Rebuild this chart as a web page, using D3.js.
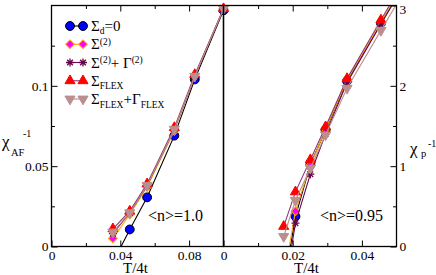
<!DOCTYPE html>
<html>
<head>
<meta charset="utf-8">
<script src="https://cdn.jsdelivr.net/npm/d3@7"></script>
<style>
  body { margin: 0; background: #fff; }
  svg text { font-family: "Liberation Serif", "Times New Roman", Times, serif; fill: #000; }
</style>
</head>
<body>
<svg id="chart" width="436" height="275"></svg>
<script>
// ---- data: left panel, <n>=1.0, inverse AF susceptibility vs T/4t
const tempsAF     = [0.0357, 0.0455, 0.0556, 0.0714, 0.0833, 0.1];
const sigD0AF     = [-0.010, 0.0106, 0.0306, 0.069, 0.104, 0.147];
const sig2AF      = [0.005, 0.020, 0.037, 0.072, 0.106, 0.148];
const sig2Gam2AF  = [0.008, 0.021, 0.038, 0.073, 0.106, 0.148];
const flexAF      = [0.011, 0.022, 0.039, 0.074, 0.107, 0.148];
const flexGamAF   = [0.009, 0.021, 0.038, 0.073, 0.106, 0.148];

// ---- data: right panel, <n>=0.95, inverse pairing susceptibility vs T/4t
const tempsP      = [0.0174, 0.0208, 0.0251, 0.0295, 0.0357, 0.0455, 0.0556];
const sigD0P      = [-0.50, 0.375, 1.02, 1.45, 2.06, 2.78, 3.52];
const sig2P       = [-0.40, 0.44, 1.01, 1.46, 2.07, 2.79, 3.53];
const sig2Gam2P   = [-0.60, 0.29, 0.90, 1.40, 2.04, 2.77, 3.50];
const flexP       = [0.25, 0.68, 1.08, 1.49, 2.09, 2.82, 3.56];
const flexGamP    = [0.125, 0.575, 0.975, 1.39, 1.97, 2.69, 3.42];

const xTicksAF = [0, 0.04, 0.08], xMinorAF = [0.02, 0.06];
const yTicksAF = [0, 0.05, 0.1], yMinorAF = [0.025, 0.075, 0.125];
const xTicksP = [0, 0.02, 0.04], xMinorP = [0.01, 0.03];
const yTicksP = [0, 1, 2, 3], yMinorP = [0.5, 1.5, 2.5];

const series = [
  {key: "d0", sym: "circle", fill: "#0000ff", edge: "#000", line: "#000"},
  {key: "s2", sym: "diamond", fill: "#ff00ff", edge: "#ffa500", line: "#ffa500"},
  {key: "s2g2", sym: "star", fill: "none", edge: "#67074a", line: "#67074a"},
  {key: "flex", sym: "up", fill: "#ff0000", edge: "#ff0000", line: "#8b3a7a"},
  {key: "flexg", sym: "down", fill: "#bc8f8f", edge: "#bc8f8f", line: "#bc8f8f"}
];
const valsAF = {d0: sigD0AF, s2: sig2AF, s2g2: sig2Gam2AF, flex: flexAF, flexg: flexGamAF};
const valsP = {d0: sigD0P, s2: sig2P, s2g2: sig2Gam2P, flex: flexP, flexg: flexGamP};

const svg = d3.select("#chart");
const plotTop = 5.5, plotBottom = 246.5;

const xL = d3.scaleLinear().domain([0, 0.1]).range([51.5, 223.5]);
const yL = d3.scaleLinear().domain([0, 0.15]).range([plotBottom, plotTop]);
const xR = d3.scaleLinear().domain([0, 0.05]).range([223.5, 396.5]);
const yR = d3.scaleLinear().domain([0, 3]).range([plotBottom, plotTop]);

function marker(sel, sym) {
  if (sym === "circle") {
    sel.attr("d", d3.symbol(d3.symbolCircle, 62)());
  } else if (sym === "diamond") {
    sel.attr("d", d3.symbol(d3.symbolSquare, 38)()).attr("data-rot", 45);
  } else if (sym === "star") {
    const r = 4, a = r * 0.707;
    sel.attr("d", `M${-r},0L${r},0M0,${-r}L0,${r}M${-a},${-a}L${a},${a}M${-a},${a}L${a},${-a}`);
  } else if (sym === "up") {
    sel.attr("d", d3.symbol(d3.symbolTriangle, 44)());
  } else {
    sel.attr("d", d3.symbol(d3.symbolTriangle, 44)()).attr("data-rot", 180);
  }
}

function drawPanel(id, x, y, temps, vals) {
  const g = svg.append("g");
  const [x0, x1] = x.range();
  g.append("clipPath").attr("id", id)
    .append("rect").attr("x", x0).attr("y", plotTop).attr("width", x1 - x0).attr("height", plotBottom - plotTop);

  const line = d3.line().x(d => x(d[0])).y(d => y(d[1]));
  series.forEach(s => {
    const pts = temps.map((t, i) => [t, vals[s.key][i]]);
    g.append("path").datum(pts)
      .attr("d", line).attr("fill", "none")
      .attr("stroke", s.line).attr("stroke-width", 1.1)
      .attr("clip-path", `url(#${id})`);
    // symbols only for points inside the panel
    const inside = pts.filter(p => p[1] >= y.domain()[0] && p[1] <= y.domain()[1]
                                && p[0] >= x.domain()[0] && p[0] <= x.domain()[1]);
    g.selectAll(null).data(inside).enter().append("path")
      .call(marker, s.sym)
      .attr("transform", function(d) {
        const rot = this.getAttribute("data-rot") || 0;
        return `translate(${x(d[0])},${y(d[1])}) rotate(${rot})`;
      })
      .attr("fill", s.fill).attr("stroke", s.edge)
      .attr("stroke-width", s.sym === "star" ? 1.3 : 1);
  });
  return g;
}

drawPanel("clipL", xL, yL, tempsAF, valsAF);
drawPanel("clipR", xR, yR, tempsP, valsP);

// ---- axes (ticks point inward, frame drawn as a rect)
function tickStyle(g, size) {
  g.select(".domain").remove();
  g.selectAll(".tick line").attr("stroke", "#000").attr("stroke-width", 1);
  g.selectAll("text").attr("font-family", null).style("font-size", size + "px").attr("fill", "#000");
}
const fmt = d => d === 0 ? "0" : d3.format("~g")(d);

function axesFor(x, y, xMaj, xMin, yMaj, yMin, ySide) {
  const ag = svg.append("g");
  const [x0, x1] = x.range();
  ag.append("g").attr("transform", `translate(0,${plotBottom})`)
    .call(d3.axisBottom(x).tickValues(xMaj).tickSizeInner(-6).tickSizeOuter(0).tickPadding(4).tickFormat(fmt))
    .call(tickStyle, 13.5);
  ag.append("g").attr("transform", `translate(0,${plotBottom})`)
    .call(d3.axisBottom(x).tickValues(xMin).tickSizeInner(-3.5).tickSizeOuter(0).tickFormat(""))
    .call(tickStyle, 13.5);
  ag.append("g").attr("transform", `translate(0,${plotTop})`)
    .call(d3.axisTop(x).tickValues(xMaj.filter(v => v !== 0)).tickSizeInner(-6).tickSizeOuter(0).tickFormat(""))
    .call(tickStyle, 13.5);
  ag.append("g").attr("transform", `translate(0,${plotTop})`)
    .call(d3.axisTop(x).tickValues(xMin).tickSizeInner(-3.5).tickSizeOuter(0).tickFormat(""))
    .call(tickStyle, 13.5);
  if (ySide === "left") {
    ag.append("g").attr("transform", `translate(${x0},0)`)
      .call(d3.axisLeft(y).tickValues(yMaj).tickSizeInner(-6).tickSizeOuter(0).tickPadding(3).tickFormat(fmt))
      .call(tickStyle, 13.5);
    ag.append("g").attr("transform", `translate(${x0},0)`)
      .call(d3.axisLeft(y).tickValues(yMin).tickSizeInner(-3.5).tickSizeOuter(0).tickFormat(""))
      .call(tickStyle, 13.5);
  } else {
    const ry = ag.append("g").attr("transform", `translate(${x1},0)`)
      .call(d3.axisRight(y).tickValues(yMaj).tickSizeInner(-6).tickSizeOuter(0).tickPadding(3).tickFormat(fmt))
      .call(tickStyle, 13.5);
    // keep the top label inside the picture
    ry.selectAll(".tick text").filter(d => d === y.domain()[1]).attr("dy", "0.6em");
    ag.append("g").attr("transform", `translate(${x1},0)`)
      .call(d3.axisRight(y).tickValues(yMin).tickSizeInner(-3.5).tickSizeOuter(0).tickFormat(""))
      .call(tickStyle, 13.5);
  }
  ag.append("rect").attr("x", x0).attr("y", plotTop).attr("width", x1 - x0).attr("height", plotBottom - plotTop)
    .attr("fill", "none").attr("stroke", "#000").attr("stroke-width", 1.3);
}
axesFor(xL, yL, xTicksAF, xMinorAF, yTicksAF, yMinorAF, "left");
axesFor(xR, yR, xTicksP, xMinorP, yTicksP, yMinorP, "right");

// ---- axis titles and annotations
svg.append("text").attr("x", 135.5).attr("y", 273).attr("text-anchor", "middle")
  .style("font-size", "15px").text("T/4t");
svg.append("text").attr("x", 306.5).attr("y", 273).attr("text-anchor", "middle")
  .style("font-size", "15px").text("T/4t");

svg.append("text").attr("x", 2).attr("y", 147).style("font-size", "17px").text("χ");
svg.append("text").attr("x", 11).attr("y", 156).style("font-size", "10.5px").text("AF");
svg.append("text").attr("x", 23).attr("y", 137).style("font-size", "10px").text("-1");

svg.append("text").attr("x", 410).attr("y", 154).style("font-size", "17px").text("χ");
svg.append("text").attr("x", 421).attr("y", 157).style("font-size", "10.5px").text("p");
svg.append("text").attr("x", 428).attr("y", 147).style("font-size", "10px").text("-1");

svg.append("text").attr("x", 148).attr("y", 221).style("font-size", "16px").text("<n>=1.0");
svg.append("text").attr("x", 320).attr("y", 221).style("font-size", "16px").text("<n>=0.95");

// ---- legend
const legendRows = [
  [["Σ", 0, 15], ["d", 3, 9.5], ["=0", -3, 15]],
  [["Σ", 0, 15], ["(2)", -4.5, 9.5]],
  [["Σ", 0, 15], ["(2)", -4.5, 9.5], ["+ Γ", 4.5, 15], ["(2)", -4.5, 9.5]],
  [["Σ", 0, 15], ["FLEX", 3.5, 9.5]],
  [["Σ", 0, 15], ["FLEX", 3.5, 9.5], ["+Γ", -3.5, 15], ["FLEX", 3.5, 9.5]]
];
const legY = d3.scalePoint().domain(d3.range(series.length)).range([26, 99]);
const leg = svg.append("g");
series.forEach((s, i) => {
  const yy = legY(i);
  leg.append("line").attr("x1", 70).attr("x2", 83).attr("y1", yy).attr("y2", yy)
    .attr("stroke", s.line).attr("stroke-width", 1.1);
  leg.selectAll(null).data([70, 83]).enter().append("path")
    .call(marker, s.sym)
    .attr("transform", function(d) {
      const rot = this.getAttribute("data-rot") || 0;
      return `translate(${d},${yy}) rotate(${rot})`;
    })
    .attr("fill", s.fill).attr("stroke", s.edge)
    .attr("stroke-width", s.sym === "star" ? 1.3 : 1);
  const t = leg.append("text").attr("x", 91).attr("y", yy + 5);
  legendRows[i].forEach(([str, dy, fs]) => {
    t.append("tspan").attr("dy", dy).style("font-size", fs + "px").text(str);
  });
});
</script>
</body>
</html>
